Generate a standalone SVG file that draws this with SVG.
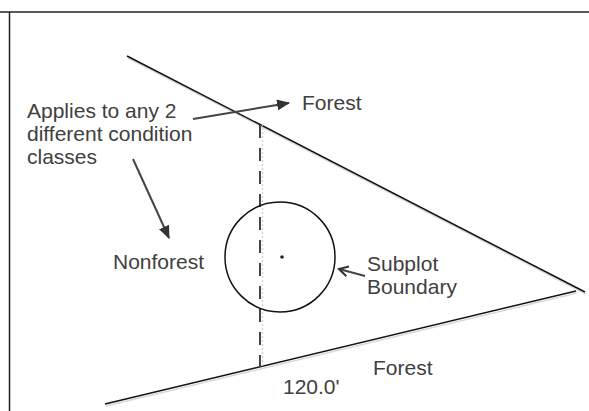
<svg xmlns="http://www.w3.org/2000/svg" width="589" height="411" viewBox="0 0 589 411">
<style>
.t{font-family:"Liberation Sans",Arial,sans-serif;font-size:21px;fill:#404040}
.ln{stroke:#111;stroke-width:1.5;fill:none}
.sh{stroke:#d8d8d8;stroke-width:1.5;fill:none}
.ar{stroke:#444;stroke-width:2;fill:none}
</style>
<defs>
<marker id="fa" markerWidth="13" markerHeight="11" refX="12" refY="5.5" orient="auto" markerUnits="userSpaceOnUse">
<path d="M0,0 L13,5.5 L0,11 Z" fill="#333"/>
</marker>
<marker id="oa" markerWidth="13" markerHeight="13" refX="11" refY="6.5" orient="auto" markerUnits="userSpaceOnUse">
<path d="M2,1.5 L11,6.5 L2,11.5" fill="none" stroke="#333" stroke-width="2"/>
</marker>
</defs>
<rect width="589" height="411" fill="#fff"/>
<g id="frame">
<line x1="0" y1="12" x2="589" y2="12" stroke="#222" stroke-width="1.5"/>
<line x1="9.5" y1="12" x2="9.5" y2="411" stroke="#222" stroke-width="1.5"/>
</g>
<g id="boundary">
<line class="sh" x1="128" y1="58" x2="586" y2="294"/>
<line class="sh" x1="106" y1="406" x2="577" y2="293"/>
<line class="ln" x1="127" y1="56" x2="585" y2="292"/>
<line class="ln" x1="105" y1="404" x2="576" y2="291"/>
</g>
<g id="transect">
<line x1="262.5" y1="124" x2="262.5" y2="367" stroke="#ccc" stroke-width="1.2" stroke-dasharray="2,2"/>
<line x1="260" y1="125" x2="260" y2="367" stroke="#444" stroke-width="2" stroke-dasharray="13,10"/>
</g>
<g id="subplot">
<circle cx="280" cy="257" r="55" fill="none" stroke="#111" stroke-width="1.5"/>
<circle cx="282" cy="257" r="1.8" fill="#222"/>
</g>
<g id="connectors">
<line class="ar" x1="193" y1="119" x2="289" y2="103" marker-end="url(#fa)"/>
<line class="ar" x1="133" y1="159" x2="169" y2="238" marker-end="url(#fa)"/>
<line class="ar" x1="365" y1="276" x2="339" y2="269" marker-end="url(#oa)"/>
</g>
<g id="labels">
<text class="t" x="27" y="118">Applies to any 2</text>
<text class="t" x="27" y="141">different condition</text>
<text class="t" x="27" y="164">classes</text>
<text class="t" x="302" y="110">Forest</text>
<text class="t" x="113" y="269">Nonforest</text>
<text class="t" x="367" y="271">Subplot</text>
<text class="t" x="367" y="294">Boundary</text>
<text class="t" x="373" y="375">Forest</text>
<text class="t" x="283" y="394">120.0'</text>
</g>
</svg>
